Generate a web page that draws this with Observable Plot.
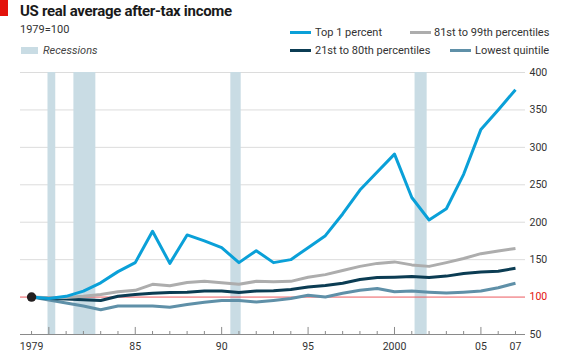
<!DOCTYPE html>
<html>
<head>
<meta charset="utf-8">
<script src="https://cdn.jsdelivr.net/npm/d3@7"></script>
<script src="https://cdn.jsdelivr.net/npm/@observablehq/plot@0.6"></script>
<style>
  html, body { margin: 0; padding: 0; background: #fff; }
  #wrap { position: relative; width: 570px; height: 352px; overflow: hidden; font-family: Roboto, "Noto Sans", sans-serif; color: #333; }
  #wrap svg { position: absolute; left: 0; top: 0; }
  .abs { position: absolute; white-space: nowrap; line-height: 1; }
  #redbox { left: 0; top: 0; width: 8px; height: 16px; background: #e3120b; }
  #title { left: 20px; top: 4px; font-size: 15px; font-weight: 700; color: #1a1a1a; letter-spacing: -0.3px; }
  #subtitle { left: 20px; top: 24px; font-size: 11px; color: #333; }
  #recsw { left: 21px; top: 47px; width: 17px; height: 7px; }
  #rectxt { left: 43px; top: 45px; font-size: 11px; font-style: italic; color: #444; }
  .sw { height: 3px; width: 21px; }
  .lg { font-size: 11px; color: #333; }
</style>
</head>
<body>
<div id="wrap"></div>
<script>
// ---- data ----
const years = [1979,1980,1981,1982,1983,1984,1985,1986,1987,1988,1989,1990,1991,1992,1993,1994,1995,1996,1997,1998,1999,2000,2001,2002,2003,2004,2005,2006,2007];
const top1 = [100,98,101,108,119,134,146,188,145,183,175,166,146,162,146,150,166,182,211,243,267,291,233,203,218,264,324,350,377];
const p81to99 = [100,99,99.5,101,103.5,107,109,117,115,119.5,121,119,117,121,120.5,121,126.5,130,135.5,141,145,147,143,141,146,151.5,158,161.5,165];
const p21to80 = [100,98,97.5,96.5,95.5,101,103.5,105,106,106.5,108,108,106,108,108.5,110,113.5,115.5,118.5,123.5,126,126.5,127.5,126,128,131.5,133.5,134.5,138.5];
const lowest = [100,96,92,88,83,88,88,88,86.5,90,93,95.5,95.5,93.5,95.5,98,102.5,100,105,109,111.5,107,108,106.5,105.5,106.5,108,112.5,118.5];
const seriesNames = ["Top 1 percent","81st to 99th percentiles","21st to 80th percentiles","Lowest quintile"];
const recessionStart = [1979.95,1981.45,1990.53,2001.19];
const recessionEnd = [1980.4,1982.72,1991.13,2001.89];
const yTicks = [50,100,150,200,250,300,350,400];
const xLabelYears = [1979,1985,1990,1995,2000,2005,2007];
const baseYear = 1979, baseValue = 100;

// ---- styles ----
const colors = {
  "Top 1 percent": "#0aa0d8",
  "81st to 99th percentiles": "#adadad",
  "21st to 80th percentiles": "#0b3c53",
  "Lowest quintile": "#5f90a8"
};
const recColor = "#c9dce4";
const redColor = "#e3120b";

const seriesValues = [top1, p81to99, p21to80, lowest];
const rows = [];
seriesNames.forEach((name, k) => years.forEach((yr, i) => rows.push({series: name, year: yr, value: seriesValues[k][i]})));
const recessions = recessionStart.map((s, i) => ({start: s, end: recessionEnd[i]}));
const drawOrder = ["Lowest quintile","21st to 80th percentiles","81st to 99th percentiles","Top 1 percent"];

const fmtYear = d => (d === 1979 || d === 2000) ? String(d) : String(d).slice(2);

const chart = Plot.plot({
  width: 570,
  height: 352,
  marginTop: 72,
  marginBottom: 18,
  marginLeft: 20,
  marginRight: 45,
  style: {fontFamily: "Roboto, 'Noto Sans', sans-serif", fontSize: "10.5px", color: "#333", background: "transparent"},
  x: {domain: [1978.36, 2007.58]},
  y: {domain: [50, 400]},
  marks: [
    Plot.ruleY(yTicks.filter(d => d !== 50 && d !== 100), {stroke: "#dcdcdc", strokeWidth: 1}),
    Plot.rect(recessions, {x1: "start", x2: "end", fill: recColor}),
    Plot.ruleY([50], {stroke: "#8a8a8a", strokeWidth: 1}),
    Plot.ruleX(years, {x: d => d, y1: 50, y2: d => d % 5 === 0 ? 59.4 : 54, stroke: "#8a8a8a", strokeWidth: 1}),
    Plot.ruleY([baseValue], {stroke: "#ec5a5e", strokeWidth: 1}),
    ...drawOrder.map(name => Plot.line(rows.filter(r => r.series === name), {x: "year", y: "value", stroke: colors[name], strokeWidth: 3, strokeLinejoin: "round", strokeLinecap: "butt"})),
    Plot.dot([{year: baseYear, value: baseValue}], {x: "year", y: "value", r: 4.7, fill: "#231f20"}),
    Plot.axisY({anchor: "right", ticks: yTicks.filter(d => d !== 100), tickSize: 0, tickPadding: 4, label: null, color: "#333"}),
    Plot.axisY({anchor: "right", ticks: [100], tickSize: 0, tickPadding: 4, label: null, color: redColor}),
    Plot.axisX({ticks: xLabelYears, tickSize: 0, tickPadding: 8, tickFormat: fmtYear, label: null, color: "#333"})
  ]
});

const wrap = document.getElementById("wrap");
wrap.appendChild(chart);

function addDiv(id, cls, text, style) {
  const d = document.createElement("div");
  if (id) d.id = id;
  d.className = "abs " + (cls || "");
  if (text) d.textContent = text;
  if (style) Object.assign(d.style, style);
  wrap.appendChild(d);
  return d;
}
addDiv("redbox");
addDiv("title", "", "US real average after-tax income");
addDiv("subtitle", "", "1979=100");
addDiv("recsw", "", "", {background: recColor});
addDiv("rectxt", "", "Recessions");

const legendPos = [
  {name: "Top 1 percent", sx: 290, tx: 315, y: 32.3},
  {name: "81st to 99th percentiles", sx: 410, tx: 434, y: 32.3},
  {name: "21st to 80th percentiles", sx: 290, tx: 315, y: 50.7},
  {name: "Lowest quintile", sx: 450, tx: 475, y: 50.7}
];
legendPos.forEach(p => {
  addDiv(null, "sw", "", {left: p.sx + "px", top: (p.y - 1.5) + "px", background: colors[p.name]});
  addDiv(null, "lg", p.name, {left: p.tx + "px", top: (p.y - 5.5) + "px"});
});
</script>
</body>
</html>
